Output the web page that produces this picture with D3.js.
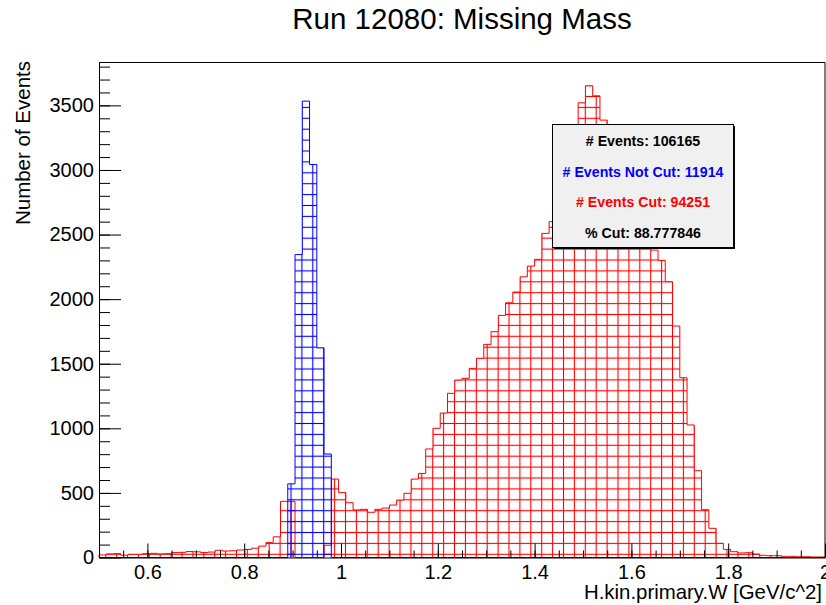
<!DOCTYPE html>
<head>
  <meta charset="utf-8">
  <script src="https://d3js.org/d3.v7.min.js"></script>
  <style>
    body { margin:0; background:#fff; }
    text { font-family: "Liberation Sans", Arial, Helvetica, sans-serif; }
  </style>
</head>

<body>
  <script>
    // histogram definition: 100 bins from 0.5 to 2.0
    var xMin = 0.5, xMax = 2.0, nBins = 100;
    var binWidth = (xMax - xMin) / nBins;

    // events that were cut (red)
    var cutCounts = [
      20, 28, 30, 18, 25, 25, 30, 32, 28, 30,
      38, 40, 46, 44, 38, 42, 56, 50, 52, 58,
      62, 72, 88, 115, 160, 435, 435, 0, 0, 0,
      0, 95, 607, 502, 424, 368, 373, 350, 373, 383,
      406, 445, 497, 607, 651, 840, 1000, 1118, 1271, 1374,
      1387, 1464, 1542, 1650, 1748, 1874, 1972, 2055, 2173, 2256,
      2308, 2509, 2600, 2750, 2950, 3150, 3520, 3652, 3574, 3386,
      3300, 3250, 3200, 3150, 3050, 2900, 2380, 2300, 2135, 1792,
      1392, 1026, 672, 370, 226, 110, 63, 45, 35, 37,
      27, 17, 14, 14, 9, 9, 6, 6, 4, 4
    ];

    // events that passed the cut (blue)
    var notCutCounts = d3.range(nBins).map(function() { return 0; });
    var notCutFirstBin = 26;
    var notCutValues = [570, 2345, 3533, 3042, 1623, 801];
    notCutValues.forEach(function(v, i) { notCutCounts[notCutFirstBin + i] = v; });

    var xMajor = [0.6, 0.8, 1.0, 1.2, 1.4, 1.6, 1.8, 2.0];
    var xMinor = d3.range(0.55, 2.0, 0.05);
    var yMajor = [0, 500, 1000, 1500, 2000, 2500, 3000, 3500];
    var yMinor = d3.range(100, 3900, 100);
    var yTop = 3832;

    var statLines = [
      {text: "# Events: 106165", color: "#000"},
      {text: "# Events Not Cut: 11914", color: "#0000ff"},
      {text: "# Events Cut: 94251", color: "#ff0000"},
      {text: "% Cut: 88.777846", color: "#000"}
    ];

    var width = 826, height = 605;
    var frame = {left: 99, right: 825, top: 62.5, bottom: 557.5};

    var svg = d3.select("body").append("svg")
      .attr("width", width)
      .attr("height", height);

    var x = d3.scaleLinear().domain([xMin, xMax]).range([frame.left, frame.right]);
    var y = d3.scaleLinear().domain([0, yTop]).range([frame.bottom, frame.top]);

    // grid hatch patterns (ROOT style fill)
    var defs = svg.append("defs");
    function makePattern(id, color) {
      var p = defs.append("pattern")
        .attr("id", id)
        .attr("patternUnits", "userSpaceOnUse")
        .attr("x", 2.15).attr("y", 3.85)
        .attr("width", 10.9).attr("height", 10.9);
      p.append("line").attr("x1", 5.45).attr("x2", 5.45).attr("y1", 0).attr("y2", 10.9)
        .attr("stroke", color).attr("stroke-width", 1.1);
      p.append("line").attr("y1", 5.45).attr("y2", 5.45).attr("x1", 0).attr("x2", 10.9)
        .attr("stroke", color).attr("stroke-width", 1.1);
    }
    makePattern("hatch-red", "#ff0000");
    makePattern("hatch-blue", "#0000ff");

    function stepPoints(counts) {
      var pts = [[xMin, 0]];
      counts.forEach(function(c, i) {
        pts.push([xMin + i * binWidth, c]);
        pts.push([xMin + (i + 1) * binWidth, c]);
      });
      pts.push([xMax, 0]);
      return pts;
    }

    var line = d3.line()
      .x(function(d) { return x(d[0]); })
      .y(function(d) { return y(d[1]); });

    svg.append("path")
      .datum(stepPoints(cutCounts))
      .attr("d", line)
      .attr("fill", "url(#hatch-red)")
      .attr("stroke", "#ff0000")
      .attr("stroke-width", 1);

    svg.append("path")
      .datum(stepPoints(notCutCounts))
      .attr("d", line)
      .attr("fill", "url(#hatch-blue)")
      .attr("stroke", "#0000ff")
      .attr("stroke-width", 1);

    // frame
    svg.append("path")
      .attr("d", "M" + frame.left + "," + frame.top + "H" + frame.right + "V" + frame.bottom)
      .attr("fill", "none").attr("stroke", "#000").attr("stroke-width", 1);

    // axes
    var xAxis = svg.append("g")
      .attr("transform", "translate(0," + frame.bottom + ")")
      .call(d3.axisBottom(x).tickValues(xMajor).tickSize(-14).tickSizeOuter(0).tickPadding(7)
        .tickFormat(d3.format("~g")));
    svg.append("g")
      .attr("transform", "translate(0," + frame.bottom + ")")
      .call(d3.axisBottom(x).tickValues(xMinor).tickSize(-7).tickSizeOuter(0).tickFormat(""))
      .select(".domain").remove();

    var yAxis = svg.append("g")
      .attr("transform", "translate(" + frame.left + ",0)")
      .call(d3.axisLeft(y).tickValues(yMajor).tickSize(-22).tickSizeOuter(0).tickPadding(5)
        .tickFormat(d3.format("d")));
    svg.append("g")
      .attr("transform", "translate(" + frame.left + ",0)")
      .call(d3.axisLeft(y).tickValues(yMinor).tickSize(-11).tickSizeOuter(0).tickFormat(""))
      .select(".domain").remove();

    svg.selectAll(".tick line").attr("stroke", "#000");
    svg.selectAll(".domain").attr("stroke", "#000");
    xAxis.selectAll("text").attr("font-size", 20).attr("fill", "#000")
      .style("font-family", "'Liberation Sans', Arial, sans-serif");
    yAxis.selectAll("text").attr("font-size", 20).attr("fill", "#000")
      .style("font-family", "'Liberation Sans', Arial, sans-serif");

    // titles
    svg.append("text")
      .attr("x", 462).attr("y", 29)
      .attr("text-anchor", "middle")
      .attr("font-size", 29.5)
      .text("Run 12080: Missing Mass");

    svg.append("text")
      .attr("x", 822).attr("y", 599)
      .attr("text-anchor", "end")
      .attr("font-size", 20.4)
      .text("H.kin.primary.W [GeV/c^2]");

    svg.append("text")
      .attr("transform", "translate(30,61) rotate(-90)")
      .attr("text-anchor", "end")
      .attr("font-size", 20.5)
      .text("Number of Events");

    // stats box
    var box = {x: 552.5, y: 124.5, w: 181, h: 123};
    svg.append("rect")
      .attr("x", box.x + 1.5).attr("y", box.y + 1.5)
      .attr("width", box.w).attr("height", box.h)
      .attr("fill", "#000");
    svg.append("rect")
      .attr("x", box.x).attr("y", box.y)
      .attr("width", box.w).attr("height", box.h)
      .attr("fill", "#f0f0f0").attr("stroke", "#000").attr("stroke-width", 1);

    svg.selectAll(".stat").data(statLines).enter().append("text")
      .attr("class", "stat")
      .attr("x", box.x + box.w / 2)
      .attr("y", function(d, i) { return 146 + i * 30.5; })
      .attr("text-anchor", "middle")
      .attr("font-size", 14.2)
      .attr("font-weight", "bold")
      .attr("fill", function(d) { return d.color; })
      .text(function(d) { return d.text; });
  </script>
</body>
